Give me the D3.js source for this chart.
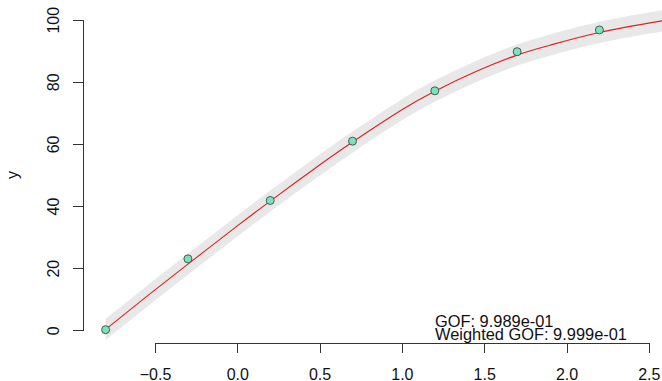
<!DOCTYPE html>
<html>
<head>
<meta charset="utf-8">
<script src="https://cdn.jsdelivr.net/npm/d3@7"></script>
<style>
  body { margin: 0; background: #fff; }
  svg { display: block; font-family: "Liberation Sans", Arial, sans-serif; }
  .axis path, .axis line { stroke: #333; stroke-width: 1; shape-rendering: crispEdges; }
  .axis text { fill: #111; font-size: 16px; }
</style>
</head>
<body>
<div id="chart"></div>
<script>
// observed points
var pointX = [-0.8, -0.3, 0.2, 0.7, 1.2, 1.7, 2.2];
var pointY = [0.2, 23.0, 41.8, 60.9, 77.1, 89.7, 96.7];

// fitted curve
var curveX = [-0.8, -0.55, -0.3, 0.0, 0.2, 0.45, 0.7, 1.0, 1.2, 1.45, 1.7, 1.9, 2.2, 2.6];
var curveY = [0.3, 10.9, 21.3, 33.6, 41.6, 51.3, 60.6, 71.0, 77.0, 83.3, 88.6, 91.8, 95.9, 99.8];
var bandLo = [-3.1, 7.5, 17.9, 30.2, 38.2, 47.9, 57.2, 67.6, 73.6, 79.9, 85.2, 88.4, 92.5, 96.4];
var bandHi = [3.7, 14.3, 24.7, 37.0, 45.0, 54.7, 64.0, 74.4, 80.4, 86.7, 92.0, 95.2, 99.3, 103.2];

var xTicks = [-0.5, 0.0, 0.5, 1.0, 1.5, 2.0, 2.5];
var yTicks = [0, 20, 40, 60, 80, 100];
var gofLines = ["GOF: 9.989e-01", "Weighted GOF: 9.999e-01"];

var width = 662, height = 381;

var x = d3.scaleLinear().domain([-0.5, 2.5]).range([155.0, 648.8]);
var y = d3.scaleLinear().domain([0, 100]).range([330.3, 19.7]);

var svg = d3.select("#chart")
  .append("svg")
    .attr("width", width)
    .attr("height", height);

var curveData = curveX.map(function(d, i) {
  return {x: d, y: curveY[i], lo: bandLo[i], hi: bandHi[i]};
});

// grey band
var band = d3.area()
  .x(function(d) { return x(d.x); })
  .y0(function(d) { return y(d.lo); })
  .y1(function(d) { return y(d.hi); })
  .curve(d3.curveNatural);

svg.append("path")
  .datum(curveData)
  .attr("d", band)
  .attr("fill", "#e8e8e8");

// red fit line
var line = d3.line()
  .x(function(d) { return x(d.x); })
  .y(function(d) { return y(d.y); })
  .curve(d3.curveNatural);

svg.append("path")
  .datum(curveData)
  .attr("d", line)
  .attr("fill", "none")
  .attr("stroke", "#dd2020")
  .attr("stroke-width", 1.1);

// points
svg.selectAll("circle")
    .data(pointX)
  .enter().append("circle")
    .attr("cx", function(d) { return x(d); })
    .attr("cy", function(d, i) { return y(pointY[i]); })
    .attr("r", 4)
    .attr("fill", "#7fe0bc")
    .attr("stroke", "#3d5f55")
    .attr("stroke-width", 1);

// y axis
var yAxis = d3.axisLeft(y).tickValues(yTicks).tickSize(10).tickSizeOuter(0)
  .tickFormat(d3.format("d"));

svg.append("g")
  .attr("class", "y axis")
  .attr("transform", "translate(82.5,0)")
  .call(yAxis)
  .selectAll("text")
    .attr("transform", "rotate(-90)")
    .attr("x", 0)
    .attr("y", -23.5)
    .attr("dy", 0)
    .style("text-anchor", "middle");

// x axis
var xAxis = d3.axisBottom(x).tickValues(xTicks).tickSize(10).tickSizeOuter(0)
  .tickFormat(d3.format(".1f"));

svg.append("g")
  .attr("class", "x axis")
  .attr("transform", "translate(0,342.5)")
  .call(xAxis)
  .selectAll("text")
    .attr("y", 37)
    .attr("dy", 0);

svg.selectAll(".axis .domain").attr("fill", "none");

// axis title
svg.append("text")
  .attr("transform", "translate(17.5," + y(50) + ") rotate(-90)")
  .style("text-anchor", "middle")
  .style("font-size", "16px")
  .attr("fill", "#111")
  .text("y");

// goodness of fit notes
svg.selectAll(".gof")
    .data(gofLines)
  .enter().append("text")
    .attr("class", "gof")
    .attr("x", 435)
    .attr("y", function(d, i) { return 327.3 + i * 13; })
    .style("font-size", "16.4px")
    .attr("fill", "#111")
    .text(function(d) { return d; });
</script>
</body>
</html>
